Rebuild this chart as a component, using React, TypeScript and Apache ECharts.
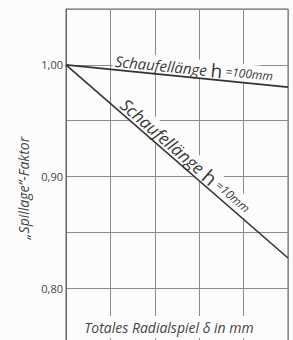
import React, { useEffect, useRef } from "react";
import * as echarts from "echarts";

const xValues = [0, 5];
const h100Values = [1.0, 0.98];
const h10Values = [1.0, 0.827];
const yLabeled = [0.8, 0.9, 1.0];

const FONT = "'Open Sans', 'Liberation Sans', sans-serif";
const TXT = "#3a3a3a";

export default function App() {
  const ref = useRef<HTMLDivElement>(null);
  useEffect(() => {
    if (!ref.current) return;
    const chart = echarts.init(ref.current, null, { renderer: "svg" });
    const mk = (vals: number[]) => xValues.map((x, i) => [x, vals[i]]);
    chart.setOption({
      animation: false,
      backgroundColor: "#fcfcfc",
      grid: { left: 66, right: 5, top: 9, bottom: 0, show: true, borderColor: "#666", borderWidth: 1 },
      xAxis: {
        type: "value", min: 0, max: 5, interval: 1,
        axisLine: { show: false }, axisTick: { show: false }, axisLabel: { show: false },
        splitLine: { show: true, lineStyle: { color: "#8a8a8a", width: 1 } },
      },
      yAxis: {
        type: "value", min: 0.75, max: 1.05, interval: 0.05,
        axisLine: { show: true, lineStyle: { color: "#666" } }, axisTick: { show: false },
        axisLabel: {
          margin: 3, color: "#444", fontFamily: FONT, fontSize: 11,
          formatter: (v: number) => {
            const r = Math.round(v * 100) / 100;
            return yLabeled.some((l) => Math.abs(l - r) < 1e-6) ? r.toFixed(2).replace(".", ",") : "";
          },
        },
        splitLine: { show: true, lineStyle: { color: "#8a8a8a", width: 1 } },
      },
      series: [
        { type: "line", data: mk(h100Values), symbol: "none", lineStyle: { color: "#333", width: 1.9 }, z: 3 },
        { type: "line", data: mk(h10Values), symbol: "none", lineStyle: { color: "#333", width: 1.6 }, z: 3 },
      ],
    });

    const place = (vals: number[], xData: number, off: number) => {
      const p0 = chart.convertToPixel({ gridIndex: 0 }, [xValues[0], vals[0]]) as number[];
      const p1 = chart.convertToPixel({ gridIndex: 0 }, [xValues[1], vals[1]]) as number[];
      const dx = p1[0] - p0[0];
      const dy = p1[1] - p0[1];
      const len = Math.hypot(dx, dy);
      const ang = Math.atan2(dy, dx);
      const t = (xData - xValues[0]) / (xValues[1] - xValues[0]);
      const cx = p0[0] + dx * t;
      const cy = p0[1] + dy * t;
      const nx = dy / len;
      const ny = -dx / len;
      return { x: cx + nx * off, y: cy + ny * off, rotation: -ang };
    };

    const a = place(h100Values, 2.86, 9);
    const b = place(h10Values, 2.55, 9.5);

    const richLabel = (small: string, fa: number, fh: number, fs: number) => ({
      text: `{a|Schaufellänge }{h|h}{s| =${small}mm}`,
      font: `italic ${fa}px ${FONT}`,
      fill: TXT,
      align: "center",
      verticalAlign: "middle",
      backgroundColor: "#fcfcfc",
      padding: [0, 2],
      rich: {
        a: { fontFamily: FONT, fontStyle: "italic", fontSize: fa, fill: TXT, color: TXT },
        h: { fontFamily: FONT, fontSize: fh, fill: TXT, color: TXT },
        s: { fontFamily: FONT, fontStyle: "italic", fontSize: fs, fill: TXT, color: TXT, padding: [0, 0, 1, 0] },
      },
    });

    chart.setOption({
      graphic: [
        { type: "text", x: a.x, y: a.y, rotation: a.rotation, z: 1, style: richLabel("100", 15, 19, 12) },
        { type: "text", x: b.x, y: b.y, rotation: b.rotation, z: 1, style: richLabel("10", 17, 20, 12) },
        {
          type: "text", x: 23, y: 188, rotation: Math.PI / 2, z: 1,
          style: {
            text: "„Spillage\u201D-Faktor", font: `italic 14px ${FONT}`, fill: "#444",
            align: "center", verticalAlign: "middle",
          },
        },
        {
          type: "text", x: 169, y: 327, z: 1,
          style: {
            text: "Totales Radialspiel δ in mm", font: `italic 14px ${FONT}`, fill: "#444",
            align: "center", verticalAlign: "middle", backgroundColor: "#fcfcfc", padding: [4, 3],
          },
        },
      ],
    });
    return () => chart.dispose();
  }, []);
  return (
    <div style={{ position: "absolute", left: 0, top: 0, width: 293, height: 340, overflow: "hidden" }}>
      <div ref={ref} style={{ width: 293, height: 344 }} />
    </div>
  );
}
